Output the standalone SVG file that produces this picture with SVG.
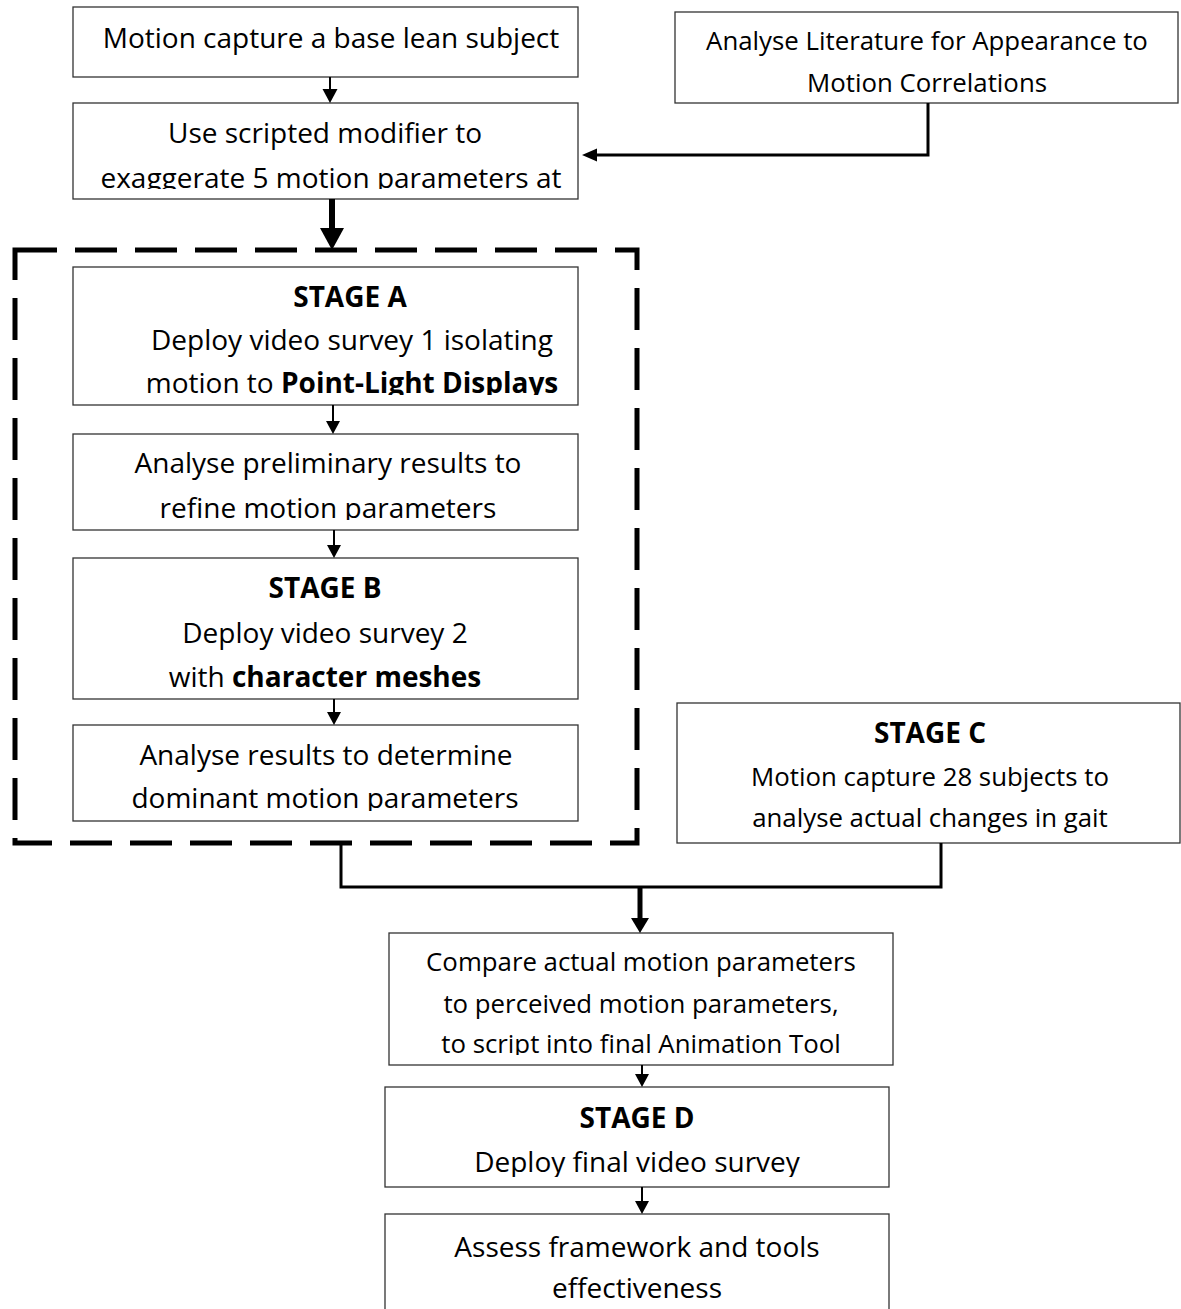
<svg xmlns="http://www.w3.org/2000/svg" width="1181" height="1309" viewBox="0 0 1181 1309">
<style>
.box{fill:#fff;stroke:#333;stroke-width:1.3}
.t{font-family:"Open Sans","Liberation Sans",sans-serif;font-size:28px;fill:#000;text-anchor:middle}
.s{font-size:25.8px}
.b{font-weight:700}
.ln{fill:none;stroke:#000;stroke-width:2}
.ln3{fill:none;stroke:#000;stroke-width:3}
.thick{fill:none;stroke:#000;stroke-width:6}
.head{fill:#000;stroke:none}
.dash{fill:none;stroke:#000;stroke-width:5;stroke-dasharray:42 18}
</style>
<defs>
<clipPath id="c2"><rect x="73" y="103" width="505" height="86"/></clipPath>
<clipPath id="cA"><rect x="73" y="267" width="505" height="128"/></clipPath>
<clipPath id="cP"><rect x="73" y="434" width="505" height="86"/></clipPath>
<clipPath id="cR"><rect x="73" y="725" width="505" height="86"/></clipPath>
<clipPath id="cCmp"><rect x="389" y="933" width="504" height="122"/></clipPath>
<clipPath id="cD"><rect x="385" y="1087" width="504" height="90"/></clipPath>
</defs>
<rect width="1181" height="1309" fill="#fff"/>

<g id="stages-ab-frame">
<path class="dash" d="M15,250 H637 V843 H15 Z"/>
</g>

<g id="capture-base">
<rect class="box" x="73" y="7" width="505" height="70"/>
<text class="t" x="331" y="48">Motion capture a base lean subject</text>
</g>

<g id="scripted-modifier">
<rect class="box" x="73" y="103" width="505" height="96"/>
<g clip-path="url(#c2)">
<text class="t" x="325" y="143">Use scripted modifier to</text>
<text class="t" x="331" y="188">exaggerate 5 motion parameters at</text>
</g>
</g>

<g id="literature">
<rect class="box" x="675" y="12" width="503" height="91"/>
<text class="t s" x="927" y="50">Analyse Literature for Appearance to</text>
<text class="t s" x="927" y="92">Motion Correlations</text>
</g>

<g id="stage-a">
<rect class="box" x="73" y="267" width="505" height="138"/>
<g clip-path="url(#cA)">
<text class="t b" x="350" y="307">STAGE A</text>
<text class="t" x="352" y="350">Deploy video survey 1 isolating</text>
<text class="t" x="352" y="393">motion to <tspan class="b">Point-Light Displays</tspan></text>
</g>
</g>

<g id="preliminary">
<rect class="box" x="73" y="434" width="505" height="96"/>
<g clip-path="url(#cP)">
<text class="t" x="328" y="473">Analyse preliminary results to</text>
<text class="t" x="328" y="518">refine motion parameters</text>
</g>
</g>

<g id="stage-b">
<rect class="box" x="73" y="558" width="505" height="141"/>
<text class="t b" x="325" y="598">STAGE B</text>
<text class="t" x="325" y="643">Deploy video survey 2</text>
<text class="t" x="325" y="687">with <tspan class="b">character meshes</tspan></text>
</g>

<g id="dominant">
<rect class="box" x="73" y="725" width="505" height="96"/>
<g clip-path="url(#cR)">
<text class="t" x="326" y="765">Analyse results to determine</text>
<text class="t" x="325" y="808">dominant motion parameters</text>
</g>
</g>

<g id="stage-c">
<rect class="box" x="677" y="703" width="503" height="140"/>
<text class="t b" x="930" y="743">STAGE C</text>
<text class="t s" x="930" y="786">Motion capture 28 subjects to</text>
<text class="t s" x="930" y="827">analyse actual changes in gait</text>
</g>

<g id="compare">
<rect class="box" x="389" y="933" width="504" height="132"/>
<g clip-path="url(#cCmp)">
<text class="t s" x="641" y="971">Compare actual motion parameters</text>
<text class="t s" x="641" y="1013">to perceived motion parameters,</text>
<text class="t s" x="641" y="1053">to script into final Animation Tool</text>
</g>
</g>

<g id="stage-d">
<rect class="box" x="385" y="1087" width="504" height="100"/>
<g clip-path="url(#cD)">
<text class="t b" x="637" y="1128">STAGE D</text>
<text class="t" x="637" y="1172">Deploy final video survey</text>
</g>
</g>

<g id="assess">
<rect class="box" x="385" y="1214" width="504" height="110"/>
<text class="t" x="637" y="1257">Assess framework and tools</text>
<text class="t" x="637" y="1298">effectiveness</text>
</g>

<g id="connectors">
<path class="ln" d="M330,77 V90"/>
<polygon class="head" points="322.5,89 337.5,89 330,103"/>
<path class="ln3" d="M928,103 V155 H596"/>
<polygon class="head" points="582,155 597,148.5 597,161.5"/>
<path class="thick" d="M332,199 V229"/>
<polygon class="head" points="320,228 344,228 332,250"/>
<path class="ln" d="M333,405 V422"/>
<polygon class="head" points="326,421 340,421 333,434"/>
<path class="ln" d="M334,530 V546"/>
<polygon class="head" points="327,545 341,545 334,558"/>
<path class="ln" d="M334,699 V713"/>
<polygon class="head" points="327,712 341,712 334,725"/>
<path class="ln3" d="M341,845 V887 H941 V843"/>
<path class="thick" style="stroke-width:5" d="M640,887 V919"/>
<polygon class="head" points="631,918 649,918 640,933"/>
<path class="ln" d="M642,1065 V1075"/>
<polygon class="head" points="635,1074 649,1074 642,1087"/>
<path class="ln" d="M642,1187 V1202"/>
<polygon class="head" points="635,1201 649,1201 642,1214"/>
</g>
</svg>
